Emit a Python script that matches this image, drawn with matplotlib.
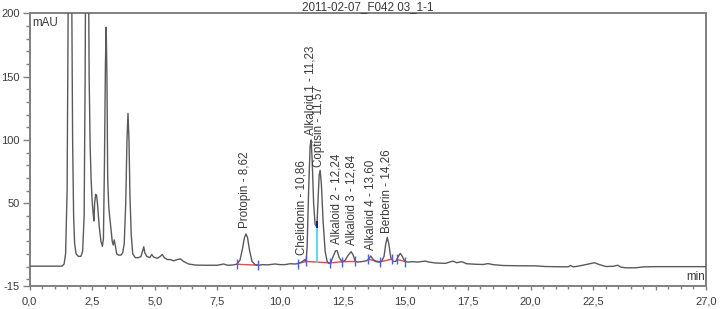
import numpy as np
import matplotlib
matplotlib.use("Agg")
import matplotlib.pyplot as plt
from matplotlib.ticker import FixedLocator, FixedFormatter

plt.rcParams['font.family'] = ['Liberation Sans', 'DejaVu Sans']

# ---------------- data ----------------
title = "2011-02-07_F042 03_1-1"

time_min = [0.0, 1.30, 1.38, 1.44, 1.50, 1.58, 1.62, 1.66, 1.69, 1.72, 1.76, 1.80, 1.86, 1.95,
            2.05, 2.12, 2.18, 2.22, 2.26, 2.31, 2.35, 2.38, 2.42, 2.46, 2.50, 2.54, 2.57, 2.60,
            2.64, 2.68, 2.72, 2.78, 2.85, 2.91, 2.95, 2.99, 3.03, 3.06, 3.09, 3.12, 3.16, 3.20,
            3.25, 3.30, 3.34, 3.38, 3.42, 3.48, 3.55, 3.65, 3.72, 3.78, 3.84, 3.89, 3.93, 3.97,
            4.01, 4.06, 4.12, 4.22, 4.35, 4.45, 4.52, 4.56, 4.60, 4.68, 4.80, 4.88, 4.95, 5.10,
            5.22, 5.30, 5.38, 5.50, 5.62, 5.75, 5.90, 6.02, 6.15, 6.35, 6.60, 7.00, 7.50, 7.75,
            7.90, 8.10, 8.27, 8.40, 8.50, 8.58, 8.64, 8.70, 8.78, 8.88, 9.00, 9.14, 9.30, 9.50,
            9.80, 10.00, 10.20, 10.40, 10.60, 10.75, 10.90, 10.98, 11.04, 11.08, 11.14, 11.20,
            11.24, 11.28, 11.34, 11.40, 11.47, 11.52, 11.56, 11.60, 11.65, 11.72, 11.80, 11.88,
            11.95, 12.02, 12.12, 12.22, 12.28, 12.36, 12.48, 12.60, 12.72, 12.84, 12.92, 13.00,
            13.10, 13.30, 13.45, 13.55, 13.62, 13.70, 13.80, 13.95, 14.05, 14.15, 14.22, 14.28,
            14.34, 14.42, 14.52, 14.62, 14.72, 14.80, 14.88, 14.98, 15.10, 15.30, 15.50, 15.80,
            15.95, 16.20, 16.60, 16.90, 17.05, 17.25, 17.45, 17.80, 18.10, 18.30, 18.50, 18.90,
            19.50, 20.20, 20.60, 21.20, 21.50, 21.60, 21.70, 21.90, 22.20, 22.55, 22.75, 23.00,
            23.30, 23.48, 23.60, 23.80, 24.20, 24.50, 25.00, 27.00]
signal_mau = [0.3, 0.3, 2.0, 10.0, 60.0, 330.0, 380.0, 330.0, 200.0, 100.0, 40.0, 18.0, 10.0, 8.0,
              8.0, 12.0, 40.0, 150.0, 330.0, 400.0, 250.0, 150.0, 95.0, 68.0, 52.0, 42.0, 36.0, 50.0,
              57.0, 56.0, 48.0, 32.0, 20.0, 16.0, 22.0, 80.0, 160.0, 189.0, 150.0, 70.0, 48.0, 39.0,
              30.0, 20.0, 17.0, 21.0, 17.0, 10.0, 9.0, 9.0, 11.0, 18.0, 50.0, 100.0, 121.0, 100.0,
              55.0, 25.0, 10.0, 7.0, 7.0, 8.0, 13.0, 15.6, 11.0, 8.0, 7.0, 9.5, 7.5, 6.5,
              8.0, 9.5, 7.0, 5.5, 5.5, 4.5, 5.5, 6.0, 4.0, 2.0, 1.2, 1.0, 1.0, 2.0,
              1.0, 1.2, 1.8, 5.0, 14.0, 23.0, 25.7, 23.0, 13.0, 4.0, 1.5, 1.0, 1.5, 1.3,
              2.0, 1.5, 1.5, 2.2, 2.0, 2.5, 4.0, 5.5, 4.0, 15.0, 60.0, 95.0,
              100.0, 85.0, 50.0, 33.0, 31.5, 55.0, 72.0, 76.0, 65.0, 35.0, 12.0, 4.0,
              2.5, 3.0, 8.0, 12.5, 12.5, 7.0, 3.5, 5.0, 9.0, 11.7, 9.0, 4.0,
              3.5, 4.0, 4.5, 6.0, 8.3, 6.0, 4.0, 3.5, 4.0, 8.0, 18.0, 23.0,
              18.0, 7.0, 4.0, 4.0, 8.0, 10.4, 8.0, 4.0, 3.5, 3.8, 3.5, 4.3,
              3.5, 2.8, 2.5, 4.3, 3.0, 3.8, 2.2, 1.8, 1.6, 2.3, 1.5, 0.8,
              0.6, 0.5, 0.0, -0.2, -0.2, 0.8, -0.3, 0.3, 1.5, 3.0, 1.5, 0.0,
              0.2, 1.0, -0.5, -1.0, -1.0, -0.3, -0.1, -0.1]

peak_names = ["Protopin - 8,62", "Chelidonin - 10,86", "Alkaloid 1 - 11,23",
              "Coptisin - 11,57", "Alkaloid 2 - 12,24", "Alkaloid 3 - 12,84",
              "Alkaloid 4 - 13,60", "Berberin - 14,26"]
peak_rt = [8.62, 10.86, 11.23, 11.57, 12.24, 12.84, 13.60, 14.26]

# integration events (peak start / end times) and baseline segments
event_times = [8.27, 9.12, 10.70, 11.04, 12.00, 12.47, 13.00, 13.53, 13.99, 14.46, 14.66, 14.99]
baseline_segments = [(8.27, 9.12), (10.70, 11.04), (11.04, 12.00), (12.00, 12.47),
                     (12.47, 13.00), (13.53, 13.99), (13.99, 14.46), (14.66, 14.99)]
drop_time = 11.47

x_major = [0.0, 2.5, 5.0, 7.5, 10.0, 12.5, 15.0, 17.5, 20.0, 22.5, 25.0, 27.0]
x_labels = ["0,0", "2,5", "5,0", "7,5", "10,0", "12,5", "15,0", "17,5", "20,0", "22,5", "", "27,0"]
y_major = [-15, 50, 100, 150, 200]
y_labels = ["-15", "50", "100", "150", "200"]

# ---------------- drawing ----------------
t = np.array(time_min)
s = np.array(signal_mau)

fig = plt.figure(figsize=(7.2, 3.09), dpi=100)
ax = fig.add_axes([0.041, 0.076, 0.9395, 0.881])

gray = "#808080"
txt = "#3a3a3a"

# baselines (red)
for a, b in baseline_segments:
    ya, yb = np.interp([a, b], t, s)
    ax.plot([a, b], [ya, yb], color="#ff4040", lw=1.0, zorder=2)

# drop line (cyan)
for a, b in baseline_segments:
    if a < drop_time < b:
        ya, yb = np.interp([a, b], t, s)
        ybase = ya + (yb - ya) * (drop_time - a) / (b - a)
        ytop = np.interp(drop_time, t, s)
        ax.plot([drop_time, drop_time], [ybase, ytop], color="#33dddd", lw=1.2, zorder=2)
        ax.plot([drop_time, drop_time], [ytop, ytop + 4], color="#1a1aa0", lw=1.4, zorder=4)

# trace
ax.plot(t, s, color="#5a5a5a", lw=1.0, zorder=3)

# event markers (blue)
ev_y = np.interp(event_times, t, s)
ax.plot(event_times, ev_y, ls="none", marker="|", ms=7, mew=1.0, color="#4a5cff", zorder=4)

# peak labels
for name, rt in zip(peak_names, peak_rt):
    yv = np.interp(rt, t, s)
    ax.annotate(name, xy=(rt, yv), xytext=(0, 5), textcoords="offset points",
                rotation=90, ha="center", va="bottom", fontsize=8.4, color=txt, zorder=5)

ax.set_xlim(0, 27)
ax.set_ylim(-15, 200)

ax.xaxis.set_major_locator(FixedLocator(x_major))
ax.xaxis.set_major_formatter(FixedFormatter(x_labels))
ax.xaxis.set_minor_locator(FixedLocator(np.arange(0, 27.01, 0.5)))
ax.yaxis.set_major_locator(FixedLocator(y_major))
ax.yaxis.set_major_formatter(FixedFormatter(y_labels))
ax.yaxis.set_minor_locator(FixedLocator(np.arange(-10, 200, 10)))

ax.tick_params(axis="x", which="major", direction="out", length=3, width=1, color=gray,
               labelsize=8, labelcolor=txt, pad=5)
ax.tick_params(axis="x", which="minor", direction="out", length=2, width=1, color=gray)
ax.tick_params(axis="y", which="major", direction="out", length=5, width=1, color=gray,
               labelsize=8, labelcolor=txt, pad=2)
ax.tick_params(axis="y", which="minor", direction="out", length=3, width=1, color=gray)

for sp in ax.spines.values():
    sp.set_color(gray)
    sp.set_linewidth(1.4)

ax.set_title(title, fontsize=8.4, color=txt, pad=1.5)
ax.text(0.004, 0.985, "mAU", transform=ax.transAxes, ha="left", va="top",
        fontsize=8.4, color=txt)
ax.text(0.999, 0.01, "min", transform=ax.transAxes, ha="right", va="bottom",
        fontsize=8.4, color=txt)

fig.savefig("out.png", dpi=100)
